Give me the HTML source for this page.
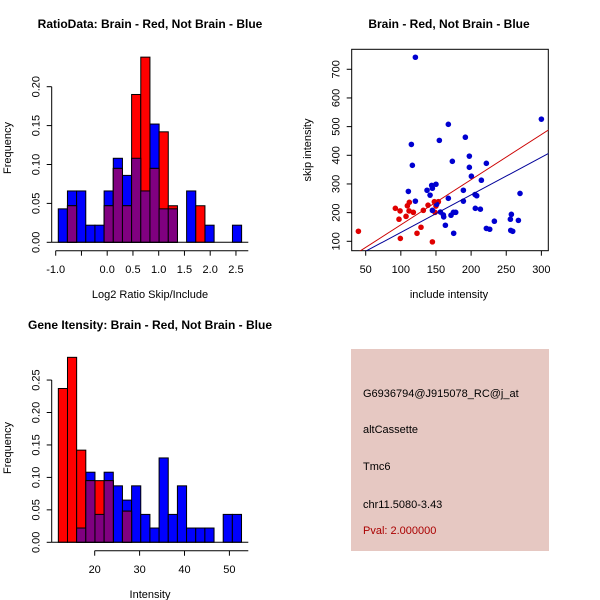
<!DOCTYPE html>
<html><head><meta charset="utf-8"><style>
html,body{margin:0;padding:0;background:#fff;}
svg{display:block;font-family:"Liberation Sans",sans-serif;}
</style></head><body>
<svg id="c" width="600" height="600" viewBox="0 0 600 600">
<rect x="0" y="0" width="600" height="600" fill="#fff"/>
<g id="p1"></g>
<g id="p2"></g>
<g id="p3"></g>
<g>
<rect x="351" y="349" width="198" height="202" fill="#e6c8c2"/>
<text x="363" y="397" font-size="11" fill="#000">G6936794@J915078_RC@j_at</text>
<text x="363" y="433" font-size="11" fill="#000">altCassette</text>
<text x="363" y="470" font-size="11" fill="#000">Tmc6</text>
<text x="363" y="508" font-size="11" fill="#000">chr11.5080-3.43</text>
<text x="363" y="534" font-size="11" fill="#aa0000">Pval: 2.000000</text>
</g>
</svg>
<script>
// ---- Ratio histogram data ----
const ratioBinStart = -0.95;
const ratioBinWidth = 0.178;
const ratioBlue = [0.043,0.066,0.066,0.022,0.022,0.066,0.108,0.086,0.108,0.066,0.152,0.043,0.043,0,0.066,0,0.022,0,0,0.022];
const ratioRed  = [0,0.047,0,0,0,0.047,0.095,0.047,0.190,0.238,0.095,0.142,0.047,0,0,0.047,0,0,0,0];
const ratioXTicks = [-1.0,-0.5,0.0,0.5,1.0,1.5,2.0,2.5];
const ratioXLabels = ["-1.0","","0.0","0.5","1.0","1.5","2.0","2.5"];
const ratioYTicks = [0,0.05,0.10,0.15,0.20];
const ratioYLabels = ["0.00","0.05","0.10","0.15","0.20"];
// ---- Intensity histogram data ----
const intBinStart = 11.9;
const intBinWidth = 2.04;
const intBlue = [0,0,0.022,0.108,0.043,0.108,0.087,0.065,0.087,0.043,0.022,0.130,0.043,0.087,0.022,0.022,0.022,0,0.043,0.043];
const intRed  = [0.237,0.285,0.142,0.095,0.095,0.095,0,0.048,0,0,0,0,0,0,0,0,0,0,0,0];
const intXTicks = [20,30,40,50];
const intYTicks = [0,0.05,0.10,0.15,0.20,0.25];
const intYLabels = ["0.00","0.05","0.10","0.15","0.20","0.25"];
// ---- Scatter data ----
const redX = [39.6,92.2,98.9,97.4,99.3,107.4,109.3,112.1,111.7,117.8,123,128.7,132,138.7,144.9,147.7,148.7,150,153.4];
const redY = [135,215,206,177,110,187,224,236,206,201,128,149,208,226,98,238,201,223,238];
const blueX = [120.7,115,116.4,110.7,120.7,137.3,141.6,143.9,144.9,150,144.9,151,154.8,167.6,167.6,173.3,156.3,160.5,161,163.4,171.4,174.8,178.1,175.2,189,189,191.8,197.5,197.5,200.4,205.6,208,206,213.2,214.6,221.7,221.7,226.5,233.1,255.9,257.3,256.4,259.2,267.3,269.6,300];
const blueY = [742,438,365,274,240,278,261,295,285,299,208,229,452,508,250,379,202,192,185,156,191,201,201,128,278,240,463,397,358,327,263,259,215,212,313,372,145,142,170,177,194,138,135,173,267,526];
const redSlope = 1.575, blueSlope = 1.31;
const scXTicks = [50,100,150,200,250,300];
const scYTicks = [100,200,300,400,500,600,700];

const NS = "http://www.w3.org/2000/svg";
function mk(parent, tag, attrs){const e=document.createElementNS(NS,tag);for(const k in attrs)e.setAttribute(k,attrs[k]);parent.appendChild(e);return e;}

function hist(g, start, width, blue, red, sx, sy, x0, x1, yTicks, yLabels, xTicks, xLabels, title, xlab, titleY, axisY, tickLabY, xlabY, ylabX, ylabCY){
  for(let i=0;i<blue.length;i++){
    const a=start+i*width, b=a+width;
    const xa=sx(a), xb=sx(b);
    if(blue[i]>0){const r=mk(g,'rect',{x:xa,y:sy(blue[i]),width:xb-xa,height:sy(0)-sy(blue[i]),fill:'#0000ff',stroke:'#000','stroke-width':1});
      }
  }
  for(let i=0;i<red.length;i++){
    const a=start+i*width, b=a+width;
    const xa=sx(a), xb=sx(b);
    if(red[i]>0){const r=mk(g,'rect',{x:xa,y:sy(red[i]),width:xb-xa,height:sy(0)-sy(red[i]),fill:'#ff0000',stroke:'#000','stroke-width':1});
      }
  }
  for(let i=0;i<red.length;i++){
    const m=Math.min(red[i],blue[i]);
    const a=start+i*width, b=a+width;
    const xa=sx(a), xb=sx(b);
    if(m>0){const r=mk(g,'rect',{x:xa,y:sy(m),width:xb-xa,height:sy(0)-sy(m),fill:'#800080',stroke:'#000','stroke-width':1});
      }
  }
  const base=mk(g,'line',{x1:x0,x2:x1,y1:sy(0),y2:sy(0),stroke:'#000'});
  
  const ya=mk(g,'line',{x1:x0,x2:x0,y1:sy(yTicks[0]),y2:sy(yTicks[yTicks.length-1]),stroke:'#000'});
  
  yTicks.forEach((t,i)=>{
    mk(g,'line',{x1:x0-5,x2:x0,y1:sy(t),y2:sy(t),stroke:'#000'});
    const tx=mk(g,'text',{x:0,y:0,transform:`translate(${x0-12},${sy(t)}) rotate(-90)`,'text-anchor':'middle','font-size':11});
    tx.textContent=yLabels[i];
    
  });
  const xa=mk(g,'line',{x1:sx(xTicks[0]),x2:x1,y1:axisY,y2:axisY,stroke:'#000'});
  
  xTicks.forEach((t,i)=>{
    mk(g,'line',{x1:sx(t),x2:sx(t),y1:axisY,y2:axisY+5,stroke:'#000'});
    const tx=mk(g,'text',{x:sx(t),y:tickLabY,'text-anchor':'middle','font-size':11});
    tx.textContent=xLabels[i];
    
  });
  const tt=mk(g,'text',{x:150,y:titleY,'text-anchor':'middle','font-size':12,'font-weight':'bold'});
  tt.textContent=title;
  const xl=mk(g,'text',{x:150,y:xlabY,'text-anchor':'middle','font-size':11});
  xl.textContent=xlab;
  const yl=mk(g,'text',{x:0,y:0,transform:`translate(${ylabX},${ylabCY}) rotate(-90)`,'text-anchor':'middle','font-size':11});
  yl.textContent='Frequency';
}

// Panel 1
{
  const sx=v=>55.7+(v+1.0)*51.5;
  const sy=v=>242.3-v*778;
  hist(document.getElementById('p1'),ratioBinStart,ratioBinWidth,ratioBlue,ratioRed,sx,sy,51.7,248.3,ratioYTicks,ratioYLabels,ratioXTicks,ratioXLabels,
    'RatioData: Brain - Red, Not Brain - Blue','Log2 Ratio Skip/Include',28,250.7,273,298,11,148);
}
// Panel 3
{
  const sx=v=>94.7+(v-20)*4.49;
  const sy=v=>542.3-v*649;
  hist(document.getElementById('p3'),intBinStart,intBinWidth,intBlue,intRed,sx,sy,51.7,248.3,intYTicks,intYLabels,intXTicks,intXTicks.map(String),
    'Gene Itensity: Brain - Red, Not Brain - Blue','Intensity',329,550.7,573,598,11,448);
}
// Panel 2 scatter
{
  const g=document.getElementById('p2');
  const L=351.7,R=548.3,T=49.3,B=250.7;
  const sx=v=>365.7+(v-50)*0.7027;
  const sy=v=>241.3-(v-100)*0.2867;
  const box=mk(g,'rect',{x:L,y:T,width:R-L,height:B-T,fill:'none',stroke:'#000'});
  
  const defs=mk(g,'clipPath',{id:'clip2'});mk(defs,'rect',{x:L,y:T,width:R-L,height:B-T});
  const lg=mk(g,'g',{'clip-path':'url(#clip2)'});
  redX.forEach((x,i)=>{const c=mk(lg,'circle',{cx:sx(x),cy:sy(redY[i]),r:2.8,fill:'#e00000'});
    });
  blueX.forEach((x,i)=>{const c=mk(lg,'circle',{cx:sx(x),cy:sy(blueY[i]),r:2.8,fill:'#0000d0'});
    });
  const xa=0,xb=400;
  const rl=mk(lg,'line',{x1:sx(xa),y1:sy(redSlope*xa),x2:sx(xb),y2:sy(redSlope*xb),stroke:'#cc0000','stroke-width':1});
  
  const bl=mk(lg,'line',{x1:sx(xa),y1:sy(blueSlope*xa),x2:sx(xb),y2:sy(blueSlope*xb),stroke:'#000099','stroke-width':1});
  
  scXTicks.forEach(t=>{
    mk(g,'line',{x1:sx(t),x2:sx(t),y1:B,y2:B+5,stroke:'#000'});
    const tx=mk(g,'text',{x:sx(t),y:273,'text-anchor':'middle','font-size':11});tx.textContent=t;
    
  });
  scYTicks.forEach(t=>{
    mk(g,'line',{x1:L-5,x2:L,y1:sy(t),y2:sy(t),stroke:'#000'});
    const tx=mk(g,'text',{x:0,y:0,transform:`translate(${L-12},${sy(t)}) rotate(-90)`,'text-anchor':'middle','font-size':11});tx.textContent=t;
    
  });
  const tt=mk(g,'text',{x:449,y:28,'text-anchor':'middle','font-size':12,'font-weight':'bold'});
  tt.textContent='Brain - Red, Not Brain - Blue';
  const xl=mk(g,'text',{x:449,y:298,'text-anchor':'middle','font-size':11});
  xl.textContent='include intensity';
  const yl=mk(g,'text',{x:0,y:0,transform:`translate(311,150) rotate(-90)`,'text-anchor':'middle','font-size':11});
  yl.textContent='skip intensity';
}
</script>
</body></html>
